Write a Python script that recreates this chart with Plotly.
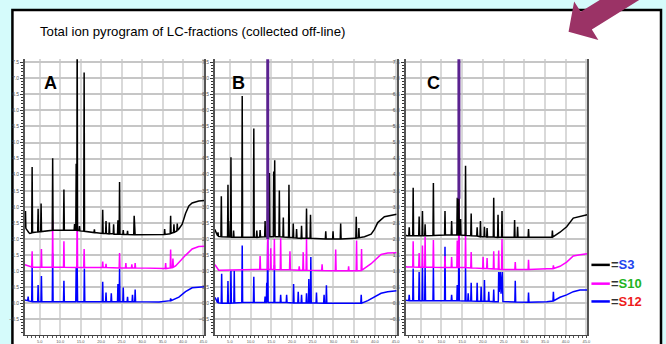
import plotly.graph_objects as go

W, H = 666, 344

# ---------------- data: (retention time [min], signal) ----------------
A_S3 = [(1.35,2.40),(1.45,2.38),(1.51,2.87),(1.60,2.33),(2.30,2.20),(2.56,2.17),
 (3.03,2.19),(3.13,4.24),(3.23,2.20),(4.49,2.22),(4.59,2.94),(4.69,2.22),
 (5.22,2.23),(5.32,3.10),(5.42,2.23),(7.42,2.26),(8.05,2.27),(8.15,4.51),(8.25,2.27),
 (10.80,2.28),(10.90,3.54),(11.00,2.28),(13.40,2.27),(13.50,2.46),(13.60,2.27),
 (13.80,2.27),(13.90,4.34),(14.00,2.27),(14.05,2.27),(14.14,9.00),(14.23,2.26),
 (14.61,2.26),(14.71,2.40),(14.81,2.25),(15.74,2.24),(15.84,7.18),(15.94,2.24),
 (18.25,2.20),(18.35,2.30),(18.45,2.20),(20.28,2.17),(20.38,2.91),(20.48,2.17),
 (21.09,2.17),(21.19,2.56),(21.29,2.17),(21.90,2.16),(22.00,2.51),(22.10,2.16),
 (22.95,2.16),(23.05,2.46),(23.15,2.15),(24.00,2.15),(24.10,2.58),(24.20,2.15),
 (24.40,2.15),(24.50,3.77),(24.60,2.15),(25.30,2.14),(25.40,2.28),(25.50,2.14),
 (26.35,2.14),(26.45,2.25),(26.55,2.14),(27.97,2.13),(28.07,2.72),(28.14,2.13),
 (28.20,2.62),(28.30,2.13),(35.42,2.14),(35.52,2.31),(35.62,2.14),
 (36.88,2.16),(36.98,2.72),(37.08,2.17),(37.69,2.20),(37.79,2.46),(37.89,2.21),
 (38.50,2.25),(38.60,2.48),(38.70,2.27),(39.00,2.31),(39.81,2.46),(40.62,2.79),
 (41.43,3.03),(42.24,3.12),(43.05,3.16),(43.86,3.18),(45.24,3.20)]
A_S10 = [(1.35,1.20),(1.76,1.18),(2.56,1.13),(3.03,1.13),(3.13,1.62),(3.23,1.13),
 (5.30,1.12),(5.40,1.69),(5.50,1.12),(8.05,1.12),(8.15,2.58),(8.25,1.12),
 (10.80,1.12),(10.90,1.93),(11.00,1.12),(14.04,1.11),(14.14,3.13),(14.24,1.11),
 (15.74,1.11),(15.84,1.69),(15.94,1.11),(20.28,1.11),(20.38,1.30),(20.48,1.11),
 (21.09,1.11),(21.19,1.23),(21.29,1.11),(24.40,1.10),(24.50,1.56),(24.60,1.10),
 (25.94,1.10),(26.04,1.25),(26.14,1.10),(27.40,1.10),(27.50,1.21),(27.60,1.10),
 (28.21,1.10),(28.31,1.25),(28.41,1.10),(34.14,1.08),(35.66,1.08),(35.76,1.25),(35.86,1.08),
 (36.88,1.10),(36.98,1.67),(37.08,1.10),(37.44,1.11),(37.54,1.39),(37.64,1.12),
 (38.20,1.16),(39.00,1.28),(40.62,1.49),(42.24,1.69),(43.86,1.765),(45.24,1.775)]
A_S12 = [(1.35,0.10),(1.76,0.08),(2.06,0.08),(2.16,0.21),(2.26,0.07),
 (3.03,0.05),(3.13,1.13),(3.23,0.05),(4.49,0.05),(4.59,0.57),(4.69,0.05),
 (5.30,0.05),(5.40,0.85),(5.50,0.05),(8.05,0.05),(8.15,1.55),(8.25,0.05),
 (10.80,0.05),(10.90,0.70),(11.00,0.05),(13.80,0.05),(13.90,1.13),(14.00,0.05),
 (14.14,1.15),(14.24,0.05),(15.80,0.05),(15.90,1.08),(16.00,0.05),
 (20.28,0.05),(20.38,0.67),(20.48,0.05),(21.09,0.05),(21.19,0.33),(21.29,0.05),
 (22.38,0.05),(22.48,0.31),(22.58,0.05),(24.00,0.05),(24.10,0.60),(24.20,0.05),
 (24.40,0.05),(24.50,1.08),(24.60,0.05),(25.30,0.05),(25.40,0.49),(25.50,0.05),
 (26.35,0.05),(26.45,0.20),(26.55,0.05),(27.56,0.05),(27.66,0.26),(27.76,0.05),
 (28.21,0.05),(28.31,0.43),(28.41,0.05),(34.14,0.04),(36.57,0.08),
 (36.88,0.08),(36.98,0.15),(37.08,0.08),(39.00,0.19),(40.62,0.36),(42.24,0.48),(45.24,0.51)]

B_S3 = [(1.35,2.30),(1.51,2.26),(2.05,2.10),(2.15,2.21),(2.25,2.08),
 (2.85,2.07),(2.95,3.33),(3.05,2.07),(4.45,2.06),(4.55,3.69),(4.65,2.06),
 (5.01,2.06),(5.11,2.56),(5.19,2.06),(5.27,4.54),(5.37,2.05),(5.81,2.05),(5.91,2.26),(6.01,2.05),
 (7.89,2.05),(7.99,6.45),(8.09,2.05),(10.69,2.05),(10.79,5.44),(10.89,2.05),
 (11.41,2.05),(11.51,2.26),(11.61,2.05),(12.21,2.06),(12.31,2.28),(12.41,2.06),
 (13.41,2.07),(13.51,2.56),(13.61,2.07),(14.05,2.07),(14.15,3.00),(14.25,2.07),
 (14.45,2.07),(14.55,4.05),(14.65,2.07),(15.49,2.07),(15.59,4.10),(15.69,2.07),
 (15.83,4.45),(15.93,2.07),(16.85,2.07),(16.95,3.51),(17.05,2.07),
 (17.81,2.06),(17.91,2.67),(18.01,2.06),(19.17,2.05),(19.27,3.69),(19.37,2.05),
 (20.21,2.04),(20.31,2.48),(20.41,2.04),(21.01,2.03),(21.11,2.31),(21.21,2.03),
 (22.21,2.02),(22.31,2.41),(22.41,2.02),(23.41,2.02),(23.51,2.95),(23.61,2.02),
 (24.37,2.02),(24.47,2.75),(24.57,2.02),(28.05,2.00),(28.15,2.24),(28.25,2.00),
 (29.81,2.00),(29.91,2.24),(30.01,2.00),(31.65,2.00),(31.75,2.48),(31.85,2.00),
 (35.10,2.02),(35.41,2.02),(35.51,2.69),(35.61,2.03),(36.05,2.04),(36.15,2.34),(36.25,2.04),
 (37.50,2.07),(39.10,2.15),(39.90,2.30),(40.70,2.51),(42.30,2.69),(45.27,2.77)]
B_S10 = [(1.35,1.20),(1.51,1.18),(2.31,1.03),(12.21,1.05),(12.31,1.47),(12.41,1.05),
 (14.05,1.05),(14.15,2.20),(14.25,1.05),(14.77,1.05),(14.87,1.71),(14.97,1.05),
 (15.65,1.05),(15.75,2.00),(15.85,1.05),(17.17,1.04),(17.27,2.02),(17.37,1.04),
 (19.41,1.04),(19.51,1.62),(19.61,1.04),(21.65,1.03),(21.75,1.15),(21.85,1.03),
 (22.61,1.03),(22.71,1.59),(22.81,1.03),(23.41,1.03),(23.51,2.00),(23.61,1.03),
 (27.17,1.02),(27.27,1.21),(27.37,1.02),(30.45,1.01),(30.55,1.67),(30.65,1.01),
 (33.57,1.01),(33.67,1.15),(33.77,1.01),(35.49,1.01),(35.59,1.95),(35.69,1.01),
 (36.69,1.02),(36.79,1.69),(36.89,1.03),(37.50,1.08),(39.10,1.23),(41.50,1.52),
 (43.10,1.56),(45.27,1.57)]
B_S12 = [(1.35,0.18),(1.51,0.155),(2.05,0.02),(2.15,0.185),(2.25,0.01),
 (2.93,0.00),(3.03,0.92),(3.13,0.00),(4.45,0.00),(4.55,0.69),(4.65,0.00),
 (5.17,0.00),(5.27,1.01),(5.37,0.00),(5.97,0.01),(6.07,1.01),(6.17,0.01),
 (7.89,0.02),(7.99,1.80),(8.09,0.02),(10.69,0.02),(10.79,0.82),(10.89,0.02),
 (13.41,0.02),(13.51,0.21),(13.61,0.02),(13.81,0.02),(13.91,0.64),(14.01,0.02),
 (14.15,2.00),(14.25,0.02),(15.65,0.02),(15.75,1.18),(15.85,0.02),
 (17.17,0.02),(17.27,0.26),(17.37,0.02),(18.61,0.02),(18.71,0.26),(18.81,0.02),
 (20.29,0.01),(20.39,0.60),(20.49,0.01),(21.41,0.01),(21.51,0.36),(21.61,0.01),
 (22.21,0.01),(22.31,0.26),(22.41,0.01),(23.41,0.01),(23.51,0.31),(23.61,0.01),
 (23.97,0.01),(24.07,0.75),(24.17,0.01),(24.45,0.01),(24.55,1.44),(24.65,0.01),
 (25.81,0.01),(25.91,0.33),(26.01,0.01),(27.65,0.00),(27.75,0.26),(27.85,0.00),
 (28.21,0.00),(28.31,0.56),(28.41,0.00),(36.61,0.00),(36.71,0.26),(36.81,0.00),
 (38.30,0.08),(39.90,0.185),(41.50,0.31),(43.10,0.36),(45.27,0.39)]

C_S3 = [(1.35,2.12),(1.67,2.10),(2.13,2.10),(2.23,2.36),(2.33,2.10),
 (3.09,2.10),(3.19,3.59),(3.29,2.10),(4.53,2.10),(4.63,2.70),(4.73,2.10),
 (5.33,2.10),(5.43,2.87),(5.53,2.10),(5.97,2.10),(6.07,2.46),(6.17,2.10),
 (7.97,2.11),(8.07,3.74),(8.17,2.11),(10.77,2.12),(10.87,2.87),(10.97,2.12),
 (12.37,2.12),(12.47,2.56),(12.57,2.12),(13.73,2.12),(13.83,3.28),(13.93,2.12),
 (14.13,2.12),(14.23,3.35),(14.33,2.12),(14.53,2.12),(14.63,2.62),(14.73,2.12),
 (15.73,2.11),(15.83,4.28),(15.93,2.11),(17.09,2.10),(17.19,2.79),(17.29,2.10),
 (18.53,2.09),(18.63,2.36),(18.73,2.09),(19.33,2.07),(19.43,2.56),(19.53,2.07),
 (20.29,2.07),(20.39,2.38),(20.49,2.07),(20.93,2.06),(21.03,2.34),(21.13,2.06),
 (22.53,2.06),(22.63,3.28),(22.73,2.06),(23.57,2.05),(23.67,2.75),(23.77,2.05),
 (24.53,2.05),(24.63,2.87),(24.73,2.05),(27.57,2.05),(27.67,2.59),(27.77,2.05),
 (28.29,2.05),(28.39,2.38),(28.49,2.05),(30.93,2.05),(31.03,2.31),(31.13,2.05),
 (35.43,2.05),(36.69,2.06),(36.79,2.26),(36.89,2.06),(37.03,2.07),(38.63,2.21),
 (40.23,2.38),(41.83,2.65),(43.43,2.70),(45.19,2.75)]
C_S10 = [(1.35,1.14),(1.67,1.13),(3.09,1.13),(3.19,1.93),(3.29,1.13),
 (4.53,1.12),(4.63,1.56),(4.73,1.12),(5.33,1.12),(5.43,1.80),(5.53,1.12),
 (5.97,1.12),(6.07,2.07),(6.17,1.12),(7.97,1.12),(8.07,1.97),(8.17,1.12),
 (10.77,1.11),(10.87,1.47),(10.97,1.11),(12.37,1.11),(12.47,1.44),(12.57,1.11),
 (13.73,1.11),(13.83,1.95),(13.93,1.11),(14.13,1.11),(14.23,3.30),(14.33,1.11),
 (15.73,1.11),(15.83,2.20),(15.93,1.11),(17.09,1.10),(17.19,1.59),(17.29,1.10),
 (19.97,1.08),(20.07,1.44),(20.17,1.08),(20.93,1.08),(21.03,1.41),(21.13,1.08),
 (22.53,1.07),(22.63,1.62),(22.73,1.07),(23.73,1.06),(23.83,1.64),(23.93,1.06),
 (24.53,1.05),(24.63,2.00),(24.73,1.05),(27.73,1.05),(27.83,1.28),(27.93,1.05),
 (30.93,1.05),(31.03,1.35),(31.13,1.05),(36.93,1.08),(37.03,1.18),(37.13,1.08),
 (38.63,1.15),(40.23,1.28),(41.83,1.47),(43.43,1.51),(45.19,1.54)]
C_S12 = [(1.35,0.09),(1.67,0.08),(2.13,0.08),(2.23,0.26),(2.33,0.08),
 (3.09,0.08),(3.19,1.08),(3.29,0.08),(4.53,0.08),(4.63,0.97),(4.73,0.08),
 (5.33,0.08),(5.43,1.13),(5.53,0.08),(5.97,0.08),(6.07,1.13),(6.17,0.08),
 (7.97,0.08),(8.07,1.13),(8.17,0.08),(10.77,0.08),(10.87,1.76),(10.97,0.08),
 (12.37,0.08),(12.47,0.26),(12.57,0.08),(13.73,0.08),(13.83,0.57),(13.93,0.08),
 (14.13,0.08),(14.23,3.30),(14.33,0.08),(15.73,0.07),(15.83,1.13),(15.93,0.07),
 (16.37,0.07),(16.47,0.31),(16.57,0.07),(17.09,0.07),(17.19,0.64),(17.29,0.07),
 (18.53,0.06),(18.63,0.64),(18.73,0.06),(19.49,0.06),(19.59,0.51),(19.69,0.06),
 (20.29,0.06),(20.39,0.72),(20.49,0.06),(21.33,0.06),(21.43,0.36),(21.53,0.06),
 (22.53,0.05),(22.63,0.43),(22.73,0.05),(23.73,0.05),(23.83,0.97),(23.95,0.35),
 (24.23,0.97),(24.40,0.30),(24.71,0.97),(24.85,0.05),(27.73,0.04),(27.83,0.70),(27.93,0.04),
 (30.93,0.03),(31.03,0.33),(31.13,0.03),(35.43,0.05),(36.93,0.07),(37.03,0.36),(37.13,0.08),
 (38.63,0.185),(40.23,0.26),(41.83,0.36),(43.43,0.41),(45.19,0.41)]

# co-eluting (overlaid) peak drawn in purple: panel, time, lower end
COELUTE_PANEL = ["B", "C"]
COELUTE_T = [14.15, 14.23]
COELUTE_LOW = [2.00, 3.25]
COELUTE_HIGH = [9.0, 9.0]

PANELS = ["A", "B", "C"]
SAMPLES = ["S3", "S10", "S12"]
X_RANGE = [1.35, 45.25]
Y_RANGE = [-0.99, 7.59]

# ---------------- styling ----------------
LINE_COL = {"S3": "black", "S10": "#ff00ff", "S12": "#0000ff"}
LABEL_COL = {"S3": "#2244ee", "S10": "#22b422", "S12": "#ee1c1c"}
FONT = "Liberation Sans, Arial, sans-serif"

def px(x):
    return x / W

def py(y):
    return 1 - y / H

DOMAINS = {"A": (25, 205.7), "B": (216, 399), "C": (408, 591)}
Y_DOM = [py(339), py(60)]

data = {"A": {"S3": A_S3, "S10": A_S10, "S12": A_S12},
        "B": {"S3": B_S3, "S10": B_S10, "S12": B_S12},
        "C": {"S3": C_S3, "S10": C_S10, "S12": C_S12}}

fig = go.Figure()
layout_axes = {}
for i, p in enumerate(PANELS):
    sfx = "" if i == 0 else str(i + 1)
    xa, ya = "x" + sfx, "y" + sfx
    for s in ["S12", "S10", "S3"]:
        t = [q[0] for q in data[p][s]]
        v = [q[1] for q in data[p][s]]
        fig.add_trace(go.Scatter(x=t, y=v, mode="lines", xaxis=xa, yaxis=ya,
                                 line=dict(color=LINE_COL[s], width=1.5),
                                 showlegend=False, hoverinfo="skip"))
    for cp, ct, lo, hi in zip(COELUTE_PANEL, COELUTE_T, COELUTE_LOW, COELUTE_HIGH):
        if cp == p:
            fig.add_trace(go.Scatter(x=[ct, ct], y=[lo, hi], mode="lines", xaxis=xa, yaxis=ya,
                                     line=dict(color="#5a2190", width=3),
                                     showlegend=False, hoverinfo="skip"))
    d0, d1 = DOMAINS[p]
    layout_axes["xaxis" + sfx] = dict(
        domain=[px(d0), px(d1)], range=X_RANGE, anchor=ya, tick0=0, dtick=5,
        showgrid=True, gridcolor="#d9d9d9", gridwidth=1.5, zeroline=False,
        showline=True, linecolor="#444", linewidth=1, ticks="outside", ticklen=2,
        tickcolor="#444", tickfont=dict(size=4, color="#555", family=FONT),
        tickformat=".1f",
        minor=dict(ticks="outside", ticklen=2, dtick=1, tickcolor="#555", showgrid=False))
    layout_axes["yaxis" + sfx] = dict(
        domain=Y_DOM, range=Y_RANGE, anchor=xa, tick0=0, dtick=0.5,
        showgrid=True, gridcolor="#c6c6c6", gridwidth=1.5, zeroline=False,
        showline=True, mirror=True, linecolor="#555", linewidth=1.5,
        ticks="outside", ticklen=3, tickcolor="#333", tickformat=".1f",
        tickfont=dict(size=5, color="#555", family=FONT),
        minor=dict(ticks="outside", ticklen=2, dtick=0.1, tickcolor="#333", showgrid=False))

shapes = []
# white slide box
shapes.append(dict(type="rect", xref="paper", yref="paper", x0=px(12.5), x1=px(665),
                   y0=py(352), y1=py(10.2), fillcolor="white",
                   line=dict(color="black", width=2.5), layer="below"))
# arrow (block arrow pointing down-left)
arrow_pts = [(572, 32), (577.6, 1.4), (584.2, 12.0), (652.0, -30.4), (663.2, -12.6),
             (595.4, 29.8), (602.0, 40.4)]
path = "M " + " L ".join(f"{px(x):.5f},{py(y):.5f}" for x, y in arrow_pts) + " Z"
shapes.append(dict(type="path", xref="paper", yref="paper", path=path,
                   fillcolor="#9b3366", line=dict(width=0)))

annotations = [dict(text="Total ion pyrogram of LC-fractions (collected off-line)",
                    x=px(38), y=py(32), xref="paper", yref="paper", xanchor="left",
                    yanchor="middle", showarrow=False,
                    font=dict(family=FONT, size=13.2, color="black"))]
for p, (cx, cy) in zip(PANELS, [(50.8, 84), (239.7, 84), (435.8, 84)]):
    annotations.append(dict(text=f"<b>{p}</b>", x=px(cx), y=py(cy), xref="paper", yref="paper",
                            xanchor="center", yanchor="middle", showarrow=False,
                            font=dict(family=FONT, size=18, color="black")))

for s, ly in zip(SAMPLES, [268, 287, 305]):
    shapes.append(dict(type="line", xref="paper", yref="paper", x0=px(595), x1=px(613.5),
                       y0=py(ly), y1=py(ly), line=dict(color=LINE_COL[s], width=2.5)))
    annotations.append(dict(text=f'<b><span style="color:#333">=</span><span style="color:{LABEL_COL[s]}">{s}</span></b>',
                            x=px(613), y=py(ly), xref="paper", yref="paper",
                            xanchor="left", yanchor="middle", showarrow=False,
                            font=dict(family=FONT, size=13)))

fig.update_layout(width=W, height=H, margin=dict(l=0, r=0, t=0, b=0),
                  paper_bgcolor="#d5fbfb", plot_bgcolor="white",
                  shapes=shapes, annotations=annotations, **layout_axes)
fig.write_html("out.html", config={"displayModeBar": False},
               post_script="document.body.style.margin='0px';document.body.style.overflow='hidden';")
